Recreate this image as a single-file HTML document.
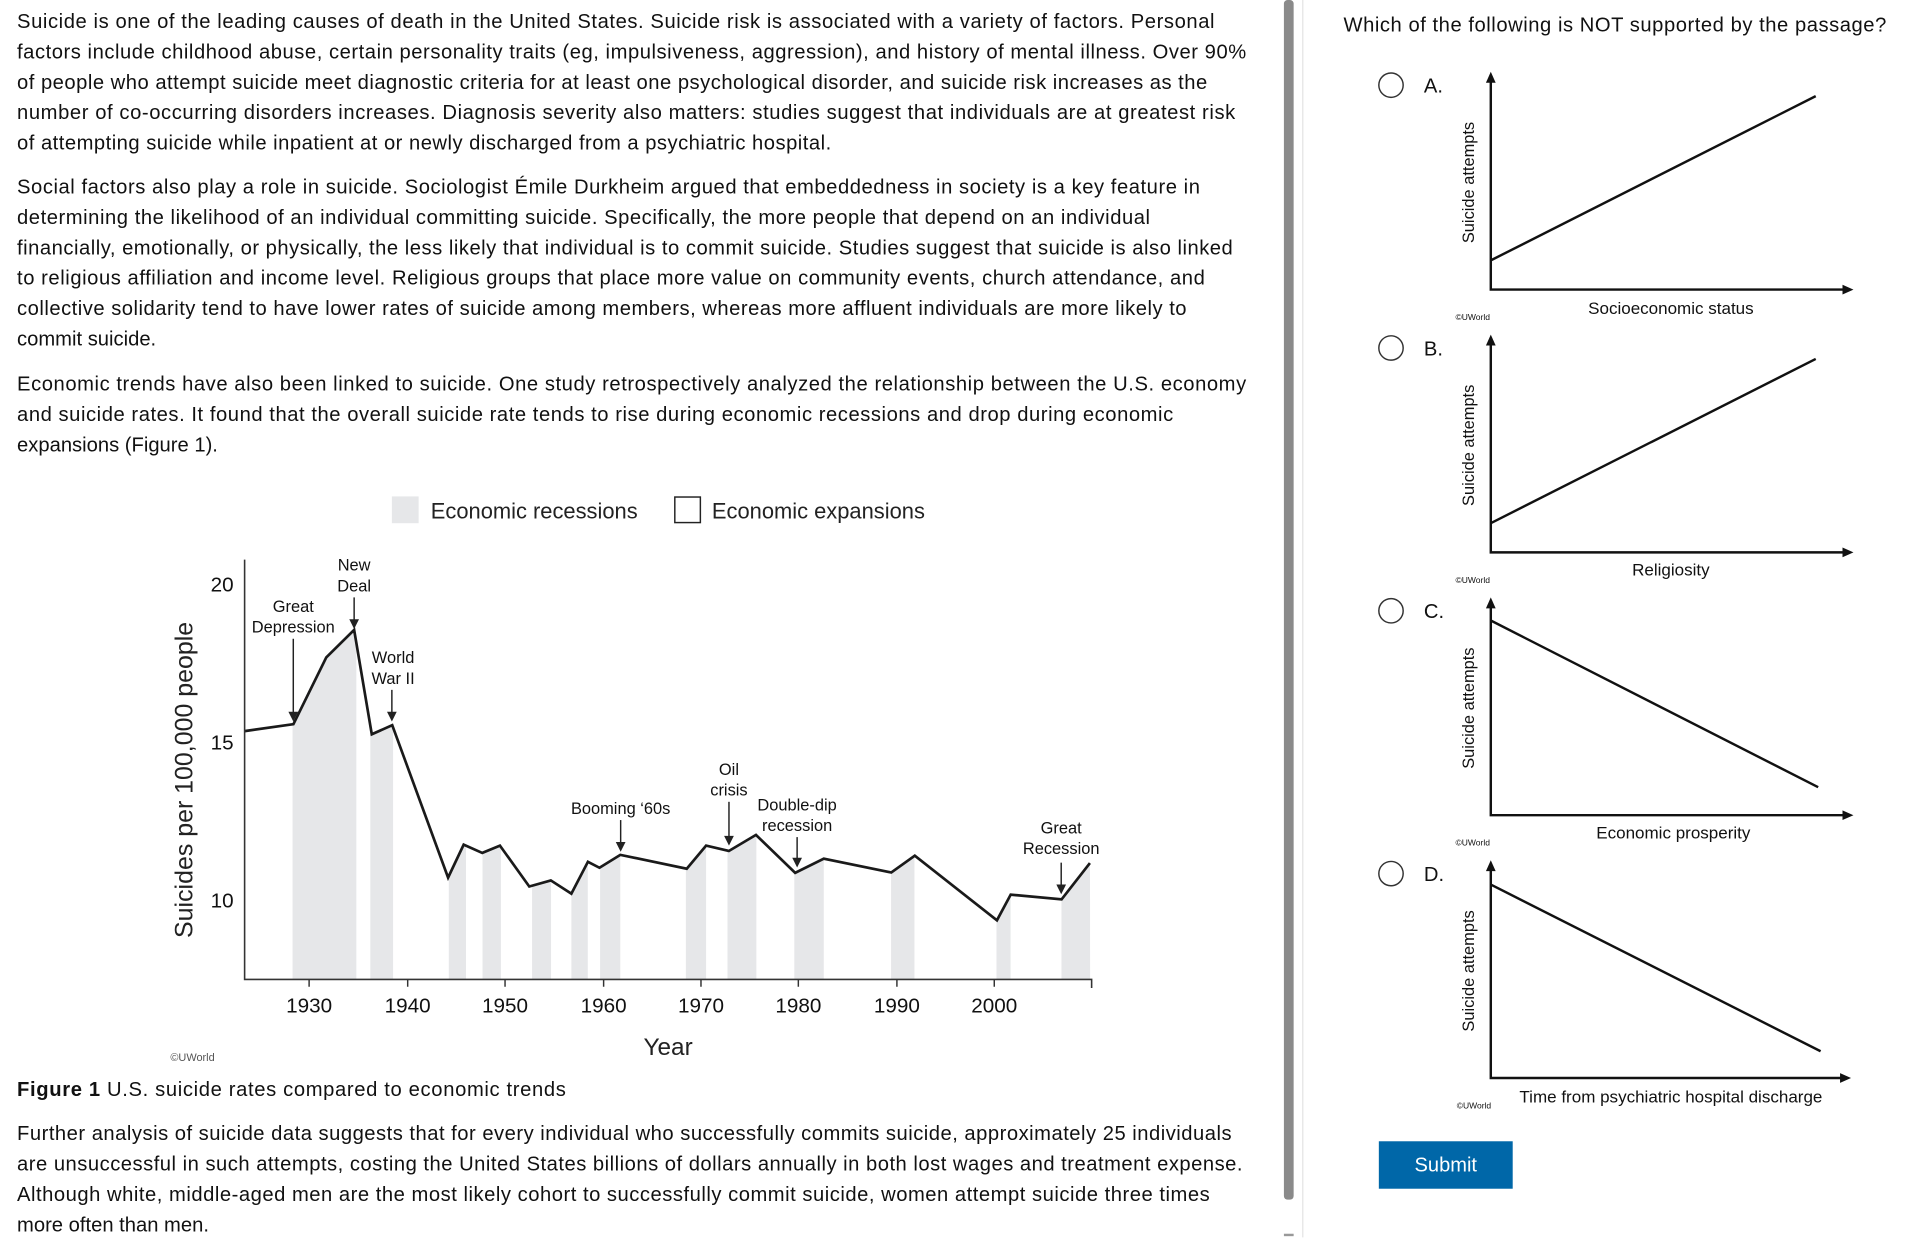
<!DOCTYPE html>
<html><head><meta charset="utf-8"><style>
html,body{margin:0;padding:0;background:#fff;width:1907px;height:1238px;overflow:hidden}
svg{display:block}
text{font-family:"Liberation Sans",Arial,sans-serif;fill:#111}
.p{font-size:16.6px}
.t{font-size:13.5px;fill:#333}
.tk{font-size:17px;fill:#333}
.s{font-size:13.5px;fill:#222}
.c{font-size:7px;fill:#555}
</style></head><body>
<svg width="1907" height="1238" viewBox="0 0 1567 1017.5" preserveAspectRatio="none" xmlns="http://www.w3.org/2000/svg">
<defs>
<clipPath id="ar"><polygon points="201,805 201,600.9 241.1,595.2 268.1,540.3 291,517.7 305.5,603.5 322.3,596 368.2,721.3 381,694.2 396.3,701 410.8,695 434.9,728.6 452.6,723.6 469.5,734.5 483.1,708.3 492.6,713.2 509.7,702.6 564.3,714 580.2,695 598.9,699.4 621.2,686.2 653.4,717.4 676.9,705.7 732.4,717.1 751.7,703.3 819.2,756.4 830.5,735.3 872.3,739.2 895.6,709.3 896,805"/></clipPath>
</defs>
<g class="p">
<text x="14" y="23" textLength="984" lengthAdjust="spacing">Suicide is one of the leading causes of death in the United States. Suicide risk is associated with a variety of factors. Personal</text>
<text x="14" y="48" textLength="1010" lengthAdjust="spacing">factors include childhood abuse, certain personality traits (eg, impulsiveness, aggression), and history of mental illness. Over 90%</text>
<text x="14" y="73" textLength="978" lengthAdjust="spacing">of people who attempt suicide meet diagnostic criteria for at least one psychological disorder, and suicide risk increases as the</text>
<text x="14" y="98" textLength="1001" lengthAdjust="spacing">number of co-occurring disorders increases. Diagnosis severity also matters: studies suggest that individuals are at greatest risk</text>
<text x="14" y="123" textLength="669" lengthAdjust="spacing">of attempting suicide while inpatient at or newly discharged from a psychiatric hospital.</text>
<text x="14" y="159" textLength="972" lengthAdjust="spacing">Social factors also play a role in suicide. Sociologist Émile Durkheim argued that embeddedness in society is a key feature in</text>
<text x="14" y="184" textLength="931" lengthAdjust="spacing">determining the likelihood of an individual committing suicide. Specifically, the more people that depend on an individual</text>
<text x="14" y="209" textLength="999" lengthAdjust="spacing">financially, emotionally, or physically, the less likely that individual is to commit suicide. Studies suggest that suicide is also linked</text>
<text x="14" y="234" textLength="976" lengthAdjust="spacing">to religious affiliation and income level. Religious groups that place more value on community events, church attendance, and</text>
<text x="14" y="259" textLength="961" lengthAdjust="spacing">collective solidarity tend to have lower rates of suicide among members, whereas more affluent individuals are more likely to</text>
<text x="14" y="284">commit suicide.</text>
<text x="14" y="321" textLength="1010" lengthAdjust="spacing">Economic trends have also been linked to suicide. One study retrospectively analyzed the relationship between the U.S. economy</text>
<text x="14" y="346" textLength="950" lengthAdjust="spacing">and suicide rates. It found that the overall suicide rate tends to rise during economic recessions and drop during economic</text>
<text x="14" y="371">expansions (Figure 1).</text>
<text x="14" y="901" textLength="451" lengthAdjust="spacing"><tspan font-weight="bold">Figure 1</tspan>  U.S. suicide rates compared to economic trends</text>
<text x="14" y="937" textLength="998" lengthAdjust="spacing">Further analysis of suicide data suggests that for every individual who successfully commits suicide, approximately 25 individuals</text>
<text x="14" y="962" textLength="1007" lengthAdjust="spacing">are unsuccessful in such attempts, costing the United States billions of dollars annually in both lost wages and treatment expense.</text>
<text x="14" y="987" textLength="980" lengthAdjust="spacing">Although white, middle-aged men are the most likely cohort to successfully commit suicide, women attempt suicide three times</text>
<text x="14" y="1012">more often than men.</text>
</g>
<rect x="322" y="408" width="22" height="22" fill="#e6e7e9"/>
<text x="354" y="426" style="font-size:18px;fill:#222">Economic recessions</text>
<rect x="554.5" y="408.5" width="21" height="21" fill="#fff" stroke="#222" stroke-width="1.2"/>
<text x="585" y="426" style="font-size:18px;fill:#222">Economic expansions</text>
<g clip-path="url(#ar)" fill="#e6e7e9">
<rect x="240.4" y="400" width="52.4" height="405"/><rect x="304.3" y="400" width="18.7" height="405"/>
<rect x="368.8" y="400" width="14.1" height="405"/><rect x="396.5" y="400" width="15.1" height="405"/>
<rect x="437.2" y="400" width="15.6" height="405"/><rect x="469.5" y="400" width="13.5" height="405"/>
<rect x="493.1" y="400" width="16.6" height="405"/><rect x="563.6" y="400" width="16.6" height="405"/>
<rect x="597.8" y="400" width="23.7" height="405"/><rect x="652.7" y="400" width="24.2" height="405"/>
<rect x="732.2" y="400" width="19.2" height="405"/><rect x="818.8" y="400" width="11.6" height="405"/>
<rect x="872.2" y="400" width="23.6" height="405"/>
</g>
<polyline fill="none" stroke="#1a1a1a" stroke-width="2.2" points="201,600.9 241.1,595.2 268.1,540.3 291,517.7 305.5,603.5 322.3,596 368.2,721.3 381,694.2 396.3,701 410.8,695 434.9,728.6 452.6,723.6 469.5,734.5 483.1,708.3 492.6,713.2 509.7,702.6 564.3,714 580.2,695 598.9,699.4 621.2,686.2 653.4,717.4 676.9,705.7 732.4,717.1 751.7,703.3 819.2,756.4 830.5,735.3 872.3,739.2 895.6,709.3"/>
<path d="M201,460 V805 H897 V812" fill="none" stroke="#333" stroke-width="1.3"/>
<g stroke="#333" stroke-width="1.2"><path d="M254,805v6M335,805v6M415,805v6M496,805v6M576,805v6M656,805v6M737,805v6M817,805v6"/></g>
<g class="tk" text-anchor="middle">
<text x="254" y="832">1930</text><text x="335" y="832">1940</text><text x="415" y="832">1950</text><text x="496" y="832">1960</text>
<text x="576" y="832">1970</text><text x="656" y="832">1980</text><text x="737" y="832">1990</text><text x="817" y="832">2000</text>
</g>
<g class="tk" text-anchor="end"><text x="192" y="486">20</text><text x="192" y="616">15</text><text x="192" y="746">10</text></g>
<text x="549" y="867" text-anchor="middle" style="font-size:20px;fill:#222">Year</text>
<text transform="translate(158,641) rotate(-90)" text-anchor="middle" style="font-size:20.5px;fill:#222">Suicides per 100,000 people</text>
<text x="140" y="872" class="c" style="font-size:9px">©UWorld</text>
<g class="t" text-anchor="middle">
<text x="291" y="469">New</text><text x="291" y="486">Deal</text>
<text x="241" y="503">Great</text><text x="241" y="520">Depression</text>
<text x="323" y="545">World</text><text x="323" y="562">War II</text>
<text x="510" y="669">Booming ‘60s</text>
<text x="599" y="637">Oil</text><text x="599" y="654">crisis</text>
<text x="655" y="666">Double-dip</text><text x="655" y="683">recession</text>
<text x="872" y="685">Great</text><text x="872" y="702">Recession</text>
</g>
<g stroke="#222" stroke-width="1.2">
<line x1="291" y1="491" x2="291" y2="510"/><line x1="241" y1="525" x2="241" y2="586"/>
<line x1="322" y1="567" x2="322" y2="586"/><line x1="510" y1="674" x2="510" y2="693"/>
<line x1="599" y1="659" x2="599" y2="688"/><line x1="655" y1="688" x2="655" y2="706"/>
<line x1="872" y1="709" x2="872" y2="728"/>
</g>
<g fill="#222">
<path d="M287,509h8l-4,8z"/><path d="M237,585h8l-4,8z"/><path d="M318,585h8l-4,8z"/><path d="M506,692h8l-4,8z"/>
<path d="M595,687h8l-4,8z"/><path d="M651,705h8l-4,8z"/><path d="M868,727h8l-4,8z"/>
</g>
<rect x="1055" y="0" width="8" height="986" rx="3" fill="#8a8a8a"/>
<rect x="1070" y="0" width="1" height="1017" fill="#e4e4e4"/>
<rect x="1055" y="1014" width="8" height="2" fill="#999"/>
<text x="1104" y="26" class="p" textLength="446" lengthAdjust="spacing">Which of the following is NOT supported by the passage?</text>
<g fill="none" stroke="#333" stroke-width="1.2">
<circle cx="1143" cy="70" r="10"/><circle cx="1143" cy="286" r="10"/><circle cx="1143" cy="502" r="10"/><circle cx="1143" cy="718" r="10"/>
</g>
<g class="p"><text x="1170" y="76">A.</text><text x="1170" y="292">B.</text><text x="1170" y="508">C.</text><text x="1170" y="724">D.</text></g>
<g stroke="#111" stroke-width="2" fill="none">
<path d="M1225,66V238H1516"/><path d="M1225,282V454H1516"/><path d="M1225,498V670H1516"/><path d="M1225,714V886H1514"/>
<line x1="1225" y1="214" x2="1492" y2="79"/><line x1="1225" y1="430" x2="1492" y2="295"/>
<line x1="1225" y1="510" x2="1494" y2="647"/><line x1="1225" y1="727" x2="1496" y2="864"/>
</g>
<g fill="#111">
<path d="M1221,68L1225,59L1229,68z"/><path d="M1221,284L1225,275L1229,284z"/><path d="M1221,500L1225,491L1229,500z"/><path d="M1221,716L1225,707L1229,716z"/>
<path d="M1514,234L1523,238L1514,242z"/><path d="M1514,450L1523,454L1514,458z"/><path d="M1514,666L1523,670L1514,674z"/><path d="M1512,882L1521,886L1512,890z"/>
</g>
<g class="s">
<text transform="translate(1211,150) rotate(-90)" text-anchor="middle">Suicide attempts</text>
<text transform="translate(1211,366) rotate(-90)" text-anchor="middle">Suicide attempts</text>
<text transform="translate(1211,582) rotate(-90)" text-anchor="middle">Suicide attempts</text>
<text transform="translate(1211,798) rotate(-90)" text-anchor="middle">Suicide attempts</text>
<text x="1373" y="258" text-anchor="middle" style="font-size:14px">Socioeconomic status</text>
<text x="1373" y="473" text-anchor="middle" style="font-size:14px">Religiosity</text>
<text x="1375" y="689" text-anchor="middle" style="font-size:14px">Economic prosperity</text>
<text x="1373" y="906" text-anchor="middle" style="font-size:14px">Time from psychiatric hospital discharge</text>
</g>
<g class="c"><text x="1196" y="263">©UWorld</text><text x="1196" y="479">©UWorld</text><text x="1196" y="695">©UWorld</text><text x="1197" y="911">©UWorld</text></g>
<rect x="1133" y="938" width="110" height="39" fill="#0067a8"/>
<text x="1188" y="963" text-anchor="middle" style="font-size:16.5px;fill:#fff">Submit</text>
</svg>
</body></html>
